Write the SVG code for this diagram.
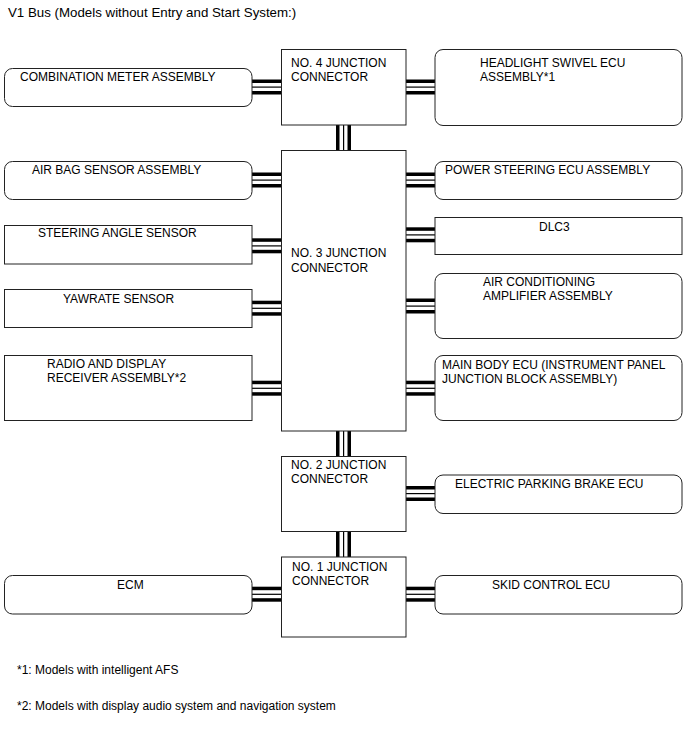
<svg xmlns="http://www.w3.org/2000/svg" xmlns:xlink="http://www.w3.org/1999/xlink" width="688" height="755" viewBox="0 0 688 755">
<style>
text{font-family:"Liberation Sans",Arial,sans-serif;font-size:12px;fill:#000}
.title{font-size:13.3px}
.box{fill:#fff;stroke:#222;stroke-width:1}
.bus rect{fill:#000}
</style>
<defs>
<g id="hbus"><rect x="0" y="0" width="1" height="3.5"/><rect x="0" y="7" width="1" height="1.2"/><rect x="0" y="11.5" width="1" height="3.5"/></g>
<g id="vbus"><rect x="0" y="0" width="3.5" height="1"/><rect x="7" y="0" width="1.2" height="1"/><rect x="11.5" y="0" width="3.5" height="1"/></g>
</defs>
<rect width="688" height="755" fill="#fff"/>
<text class="title" x="8" y="17">V1 Bus (Models without Entry and Start System:)</text>

<g id="connectors" class="bus">
<use xlink:href="#vbus" transform="translate(336,125) scale(1,25)"/>
<use xlink:href="#vbus" transform="translate(336,431) scale(1,25)"/>
<use xlink:href="#vbus" transform="translate(336,531.5) scale(1,25.5)"/>
<use xlink:href="#hbus" transform="translate(252,79.5) scale(29,1)"/>
<use xlink:href="#hbus" transform="translate(406,79.5) scale(29,1)"/>
<use xlink:href="#hbus" transform="translate(252,172.5) scale(29,1)"/>
<use xlink:href="#hbus" transform="translate(406,172.5) scale(29,1)"/>
<use xlink:href="#hbus" transform="translate(252,238.3) scale(29,1)"/>
<use xlink:href="#hbus" transform="translate(406,227.3) scale(29,1)"/>
<use xlink:href="#hbus" transform="translate(252,300.7) scale(29,1)"/>
<use xlink:href="#hbus" transform="translate(406,298.5) scale(29,1)"/>
<use xlink:href="#hbus" transform="translate(252,380.7) scale(29,1)"/>
<use xlink:href="#hbus" transform="translate(406,380.7) scale(29,1)"/>
<use xlink:href="#hbus" transform="translate(406,486) scale(29,1)"/>
<use xlink:href="#hbus" transform="translate(252,586.7) scale(29,1)"/>
<use xlink:href="#hbus" transform="translate(406,586.7) scale(29,1)"/>
</g>

<g id="jc4"><rect class="box" x="281.5" y="49.5" width="124.5" height="75.5"/><text x="291" y="67">NO. 4 JUNCTION</text><text x="291" y="81">CONNECTOR</text></g>
<g id="jc3"><rect class="box" x="281.5" y="150.5" width="124.5" height="280.5"/><text x="291" y="257">NO. 3 JUNCTION</text><text x="291" y="272">CONNECTOR</text></g>
<g id="jc2"><rect class="box" x="281.5" y="456.5" width="124.5" height="75"/><text x="291" y="468.5">NO. 2 JUNCTION</text><text x="291" y="483">CONNECTOR</text></g>
<g id="jc1"><rect class="box" x="281.5" y="557" width="124.5" height="80"/><text x="292" y="570.5">NO. 1 JUNCTION</text><text x="292" y="585">CONNECTOR</text></g>

<g id="combination-meter"><rect class="box" x="4.5" y="68.5" width="247.5" height="38" rx="8"/><text x="20" y="81">COMBINATION METER ASSEMBLY</text></g>
<g id="air-bag"><rect class="box" x="4.5" y="161.5" width="247.5" height="38" rx="8"/><text x="32" y="173.5">AIR BAG SENSOR ASSEMBLY</text></g>
<g id="steering-angle"><rect class="box" x="4.5" y="225.5" width="247.5" height="38.5"/><text x="38" y="237">STEERING ANGLE SENSOR</text></g>
<g id="yawrate"><rect class="box" x="4.5" y="289.5" width="247.5" height="38"/><text x="63" y="303">YAWRATE SENSOR</text></g>
<g id="radio"><rect class="box" x="4.5" y="355.5" width="247.5" height="65"/><text x="47" y="367.5">RADIO AND DISPLAY</text><text x="47" y="382">RECEIVER ASSEMBLY*2</text></g>
<g id="ecm"><rect class="box" x="4.5" y="575.5" width="247.5" height="38.5" rx="8"/><text x="117" y="588.5">ECM</text></g>

<g id="headlight"><rect class="box" x="435" y="49.5" width="247" height="76" rx="8"/><text x="480" y="67">HEADLIGHT SWIVEL ECU</text><text x="480" y="81">ASSEMBLY*1</text></g>
<g id="power-steering"><rect class="box" x="435" y="161.5" width="247" height="38" rx="8"/><text x="445" y="174">POWER STEERING ECU ASSEMBLY</text></g>
<g id="dlc3"><rect class="box" x="435" y="217.5" width="247" height="37"/><text x="539" y="231">DLC3</text></g>
<g id="air-conditioning"><rect class="box" x="435" y="273.5" width="247" height="65" rx="8"/><text x="483" y="285.5">AIR CONDITIONING</text><text x="483" y="300">AMPLIFIER ASSEMBLY</text></g>
<g id="main-body"><rect class="box" x="435" y="355.5" width="247" height="65" rx="8"/><text x="442" y="368.5">MAIN BODY ECU (INSTRUMENT PANEL</text><text x="442" y="383">JUNCTION BLOCK ASSEMBLY)</text></g>
<g id="epb"><rect class="box" x="435" y="475" width="247" height="38.5" rx="8"/><text x="455" y="488">ELECTRIC PARKING BRAKE ECU</text></g>
<g id="skid"><rect class="box" x="435" y="575.5" width="247" height="38.5" rx="8"/><text x="492" y="588.5">SKID CONTROL ECU</text></g>

<text x="17" y="674">*1: Models with intelligent AFS</text>
<text x="17" y="710">*2: Models with display audio system and navigation system</text>
</svg>
